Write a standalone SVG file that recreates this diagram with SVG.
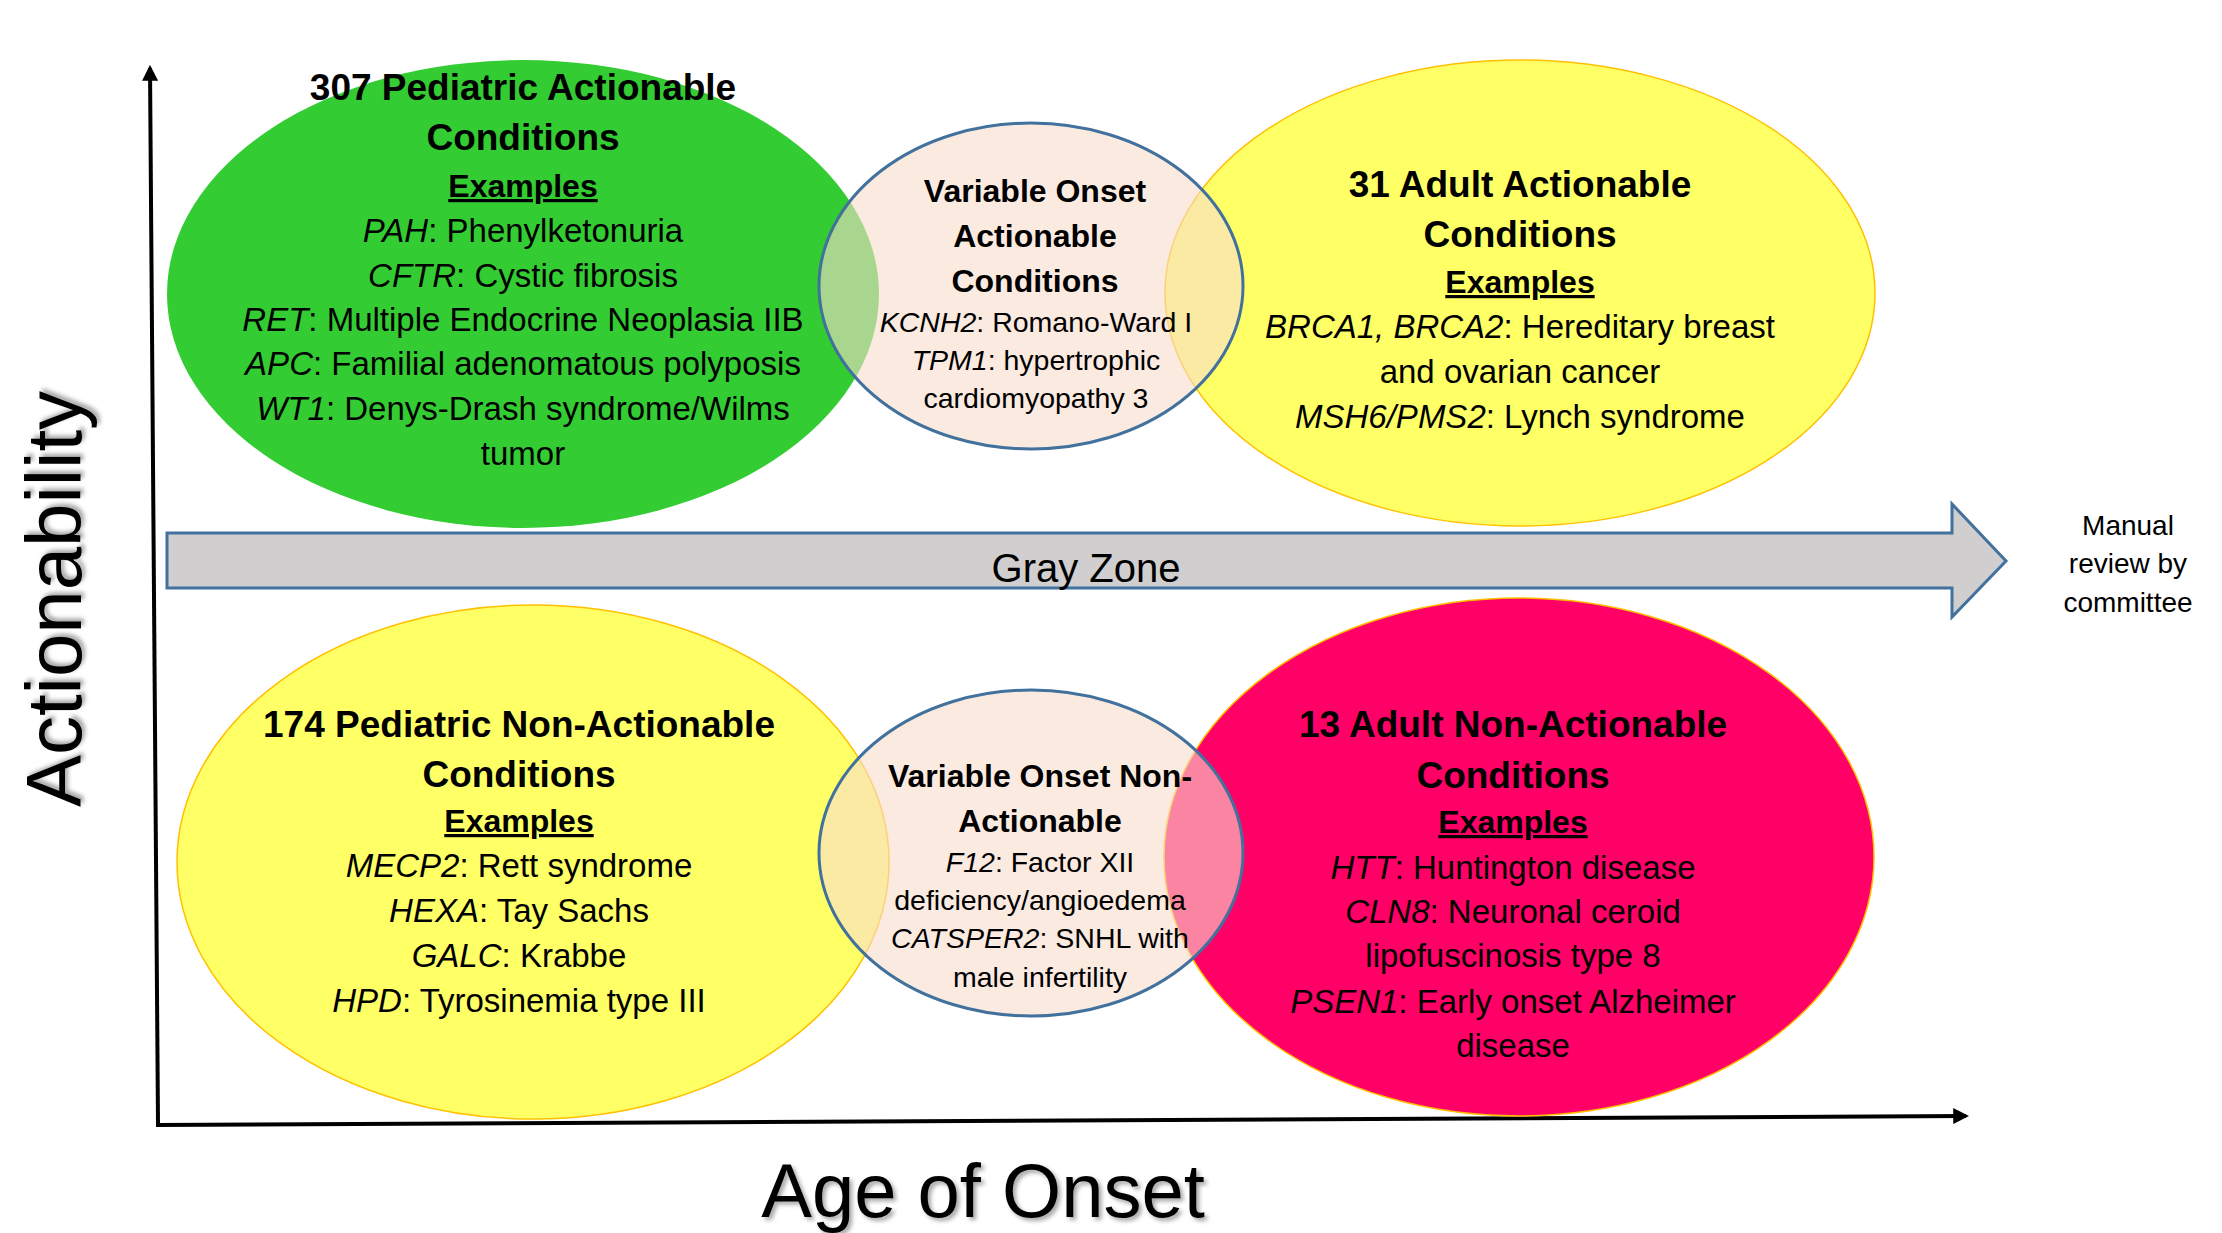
<svg xmlns="http://www.w3.org/2000/svg" width="2222" height="1233" viewBox="0 0 2222 1233">
<defs>
<style>
text{font-family:"Liberation Sans",Arial,sans-serif;fill:#000;text-anchor:middle}
.t{font-weight:bold;font-size:37px}
.ex{font-weight:bold;font-size:32px;text-decoration:underline}
.r{font-size:33px}
.mt{font-weight:bold;font-size:32px}
.mr{font-size:28.5px}
.i{font-style:italic}
.side{stroke:#FFC000;stroke-width:1.5}
.mid{fill:#F8DCCB;fill-opacity:0.6;stroke:#41719C;stroke-width:3}
.axis{stroke:#000;stroke-width:4;fill:none}
.lbl{font-size:78px}
</style>
<marker id="ah" viewBox="0 0 10 10" refX="8" refY="5" markerWidth="4" markerHeight="4" orient="auto" markerUnits="strokeWidth">
<path d="M0,0 L10,5 L0,10 z" fill="#000"/>
</marker>
<filter id="sh" x="-10%" y="-10%" width="120%" height="120%">
<feDropShadow dx="3" dy="3" stdDeviation="2" flood-color="#000" flood-opacity="0.35"/>
</filter>
</defs>
<rect width="2222" height="1233" fill="#fff"/>

<g id="connectors">
<line class="axis" x1="158" y1="1124" x2="150" y2="68" marker-end="url(#ah)"/>
<line class="axis" x1="156" y1="1125" x2="1966" y2="1116" marker-end="url(#ah)"/>
<path id="grayzone-arrow" d="M167,533 L1952,533 L1952,504 L2006,561 L1952,617 L1952,588 L167,588 Z" fill="#D0CECE" stroke="#41719C" stroke-width="3"/>
</g>

<g id="pediatric-actionable">
<ellipse cx="523" cy="294" rx="356" ry="234" fill="#33CC33"/>
<text x="523" y="100" class="t">307 Pediatric Actionable</text>
<text x="523" y="150" class="t">Conditions</text>
<text x="523" y="197" class="ex">Examples</text>
<text x="523" y="242" class="r"><tspan class="i">PAH</tspan>: Phenylketonuria</text>
<text x="523" y="287" class="r"><tspan class="i">CFTR</tspan>: Cystic fibrosis</text>
<text x="523" y="331" class="r"><tspan class="i">RET</tspan>: Multiple Endocrine Neoplasia IIB</text>
<text x="523" y="375" class="r"><tspan class="i">APC</tspan>: Familial adenomatous polyposis</text>
<text x="523" y="420" class="r"><tspan class="i">WT1</tspan>: Denys-Drash syndrome/Wilms</text>
<text x="523" y="465" class="r">tumor</text>
</g>

<g id="adult-actionable">
<ellipse class="side" cx="1520" cy="293" rx="355" ry="233" fill="#FFFF66"/>
<text x="1520" y="197" class="t">31 Adult Actionable</text>
<text x="1520" y="247" class="t">Conditions</text>
<text x="1520" y="293" class="ex">Examples</text>
<text x="1520" y="338" class="r"><tspan class="i">BRCA1, BRCA2</tspan>: Hereditary breast</text>
<text x="1520" y="383" class="r">and ovarian cancer</text>
<text x="1520" y="428" class="r"><tspan class="i">MSH6/PMS2</tspan>: Lynch syndrome</text>
</g>

<g id="pediatric-nonactionable">
<ellipse class="side" cx="533" cy="862" rx="356" ry="257" fill="#FFFF66"/>
<text x="519" y="737" class="t">174 Pediatric Non-Actionable</text>
<text x="519" y="787" class="t">Conditions</text>
<text x="519" y="832" class="ex">Examples</text>
<text x="519" y="877" class="r"><tspan class="i">MECP2</tspan>: Rett syndrome</text>
<text x="519" y="922" class="r"><tspan class="i">HEXA</tspan>: Tay Sachs</text>
<text x="519" y="967" class="r"><tspan class="i">GALC</tspan>: Krabbe</text>
<text x="519" y="1012" class="r"><tspan class="i">HPD</tspan>: Tyrosinemia type III</text>
</g>

<g id="adult-nonactionable">
<ellipse class="side" cx="1519" cy="857" rx="355" ry="259" fill="#FF0066"/>
<text x="1513" y="737" class="t">13 Adult Non-Actionable</text>
<text x="1513" y="788" class="t">Conditions</text>
<text x="1513" y="833" class="ex">Examples</text>
<text x="1513" y="879" class="r"><tspan class="i">HTT</tspan>: Huntington disease</text>
<text x="1513" y="923" class="r"><tspan class="i">CLN8</tspan>: Neuronal ceroid</text>
<text x="1513" y="967" class="r">lipofuscinosis type 8</text>
<text x="1513" y="1013" class="r"><tspan class="i">PSEN1</tspan>: Early onset Alzheimer</text>
<text x="1513" y="1057" class="r">disease</text>
</g>

<g id="variable-actionable">
<ellipse class="mid" cx="1031" cy="286" rx="212" ry="163"/>
<text x="1035" y="202" class="mt">Variable Onset</text>
<text x="1035" y="247" class="mt">Actionable</text>
<text x="1035" y="292" class="mt">Conditions</text>
<text x="1036" y="332" class="mr"><tspan class="i">KCNH2</tspan>: Romano-Ward I</text>
<text x="1036" y="370" class="mr"><tspan class="i">TPM1</tspan>: hypertrophic</text>
<text x="1036" y="408" class="mr">cardiomyopathy 3</text>
</g>

<g id="variable-nonactionable">
<ellipse class="mid" cx="1031" cy="853" rx="212" ry="163"/>
<text x="1040" y="787" class="mt">Variable Onset Non-</text>
<text x="1040" y="832" class="mt">Actionable</text>
<text x="1040" y="872" class="mr"><tspan class="i">F12</tspan>: Factor XII</text>
<text x="1040" y="910" class="mr">deficiency/angioedema</text>
<text x="1040" y="948" class="mr"><tspan class="i">CATSPER2</tspan>: SNHL with</text>
<text x="1040" y="987" class="mr">male infertility</text>
</g>

<g id="gray-zone">
<text x="1086" y="582" style="font-size:40px">Gray Zone</text>
</g>

<g id="manual-review">
<text x="2128" y="535" style="font-size:28px">Manual</text>
<text x="2128" y="573" style="font-size:28px">review by</text>
<text x="2128" y="612" style="font-size:28px">committee</text>
</g>

<g id="axis-labels">
<text class="lbl" filter="url(#sh)" transform="translate(81,599) rotate(-90)" x="0" y="0">Actionability</text>
<text class="lbl" filter="url(#sh)" x="983" y="1217" style="font-size:76px">Age of Onset</text>
</g>
</svg>
